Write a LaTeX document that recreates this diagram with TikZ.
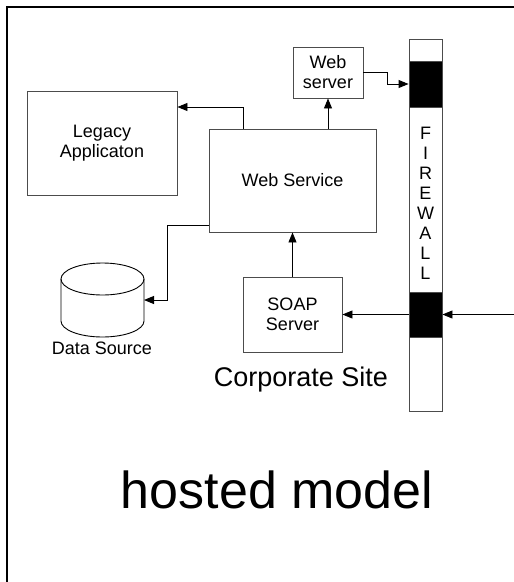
\documentclass[tikz,border=0pt]{standalone}
\usepackage{fontspec}
\setmainfont{Liberation Sans}
\usetikzlibrary{arrows.meta}
\begin{document}
\begin{tikzpicture}[x=1pt,y=-1pt,
  box/.style={draw=black!70, line width=0.9pt, fill=white, rectangle, align=center, inner sep=0pt, font=\fontsize{18}{20}\selectfont},
  blk/.style={fill=black, draw=black!70, line width=0.9pt, rectangle, inner sep=0pt, minimum width=33pt},
  arr/.style={draw=black, line width=0.9pt, -{Triangle[length=10pt,width=8pt]}},
  lbl/.style={inner sep=0pt, align=center}]
\useasboundingbox (0,0) rectangle (514,582);
\fill[white] (0,0) rectangle (514,582);
% frame
\draw[line width=2.5pt] (7,582) -- (7,7) -- (514,7);
% boxes
\node[box, minimum width=150pt, minimum height=104pt] (legacy) at (102,143) {Legacy\\Applicaton};
\node[box, minimum width=167pt, minimum height=103pt] (websvc) at (292.5,180.5) {Web Service};
\node[box, minimum width=70pt, minimum height=51pt] (websrv) at (328,72.5) {Web\\server};
\node[box, minimum width=99pt, minimum height=75pt] (soap) at (292.5,314.5) {SOAP\\Server};
% firewall
\node[box, minimum width=33pt, minimum height=372pt] (fw) at (425.5,225) {};
\node[blk, minimum height=46pt] (fw1) at (425.5,84) {};
\node[blk, minimum height=45pt] (fw2) at (425.5,314.5) {};
\node[lbl, font=\fontsize{18}{20}\selectfont] (fwtext) at (425.5,203) {F\\I\\R\\E\\W\\A\\L\\L};
% data source cylinder
\draw[draw=black, line width=0.9pt, fill=white] (61,279) -- (61,321) arc[start angle=180, end angle=360, x radius=41.5pt, y radius=16pt] -- (144,279);
\draw[draw=black, line width=0.9pt] (102.5,279) ellipse [x radius=41.5pt, y radius=16pt];
\coordinate (ds) at (144,300);
\node[lbl, font=\fontsize{18}{20}\selectfont] (dslabel) at (102,348) {Data Source};
% labels
\node[lbl, font=\fontsize{27}{30}\selectfont] (corp) at (301,380) {Corporate Site};
\node[lbl, font=\fontsize{52}{56}\selectfont] (hosted) at (277,490) {hosted model};
% connectors
\draw[arr] ([xshift=-49.5pt]websvc.north) |- ([yshift=36pt]legacy.east);
\draw[arr] (websvc.north -| websrv.south) -- (websrv.south);
\draw[arr] (websrv.east) -- ++(24,0) |- (fw1.west);
\draw[arr] ([yshift=-44.5pt]websvc.west) -- ++(-41,0) |- (ds);
\draw[arr] (soap.north) -- (websvc.south);
\draw[arr] (fw2.west) -- (soap.east);
\coordinate (ext) at (514,314.5);
\draw[arr] (ext) -- (fw2.east);
\end{tikzpicture}
\end{document}
